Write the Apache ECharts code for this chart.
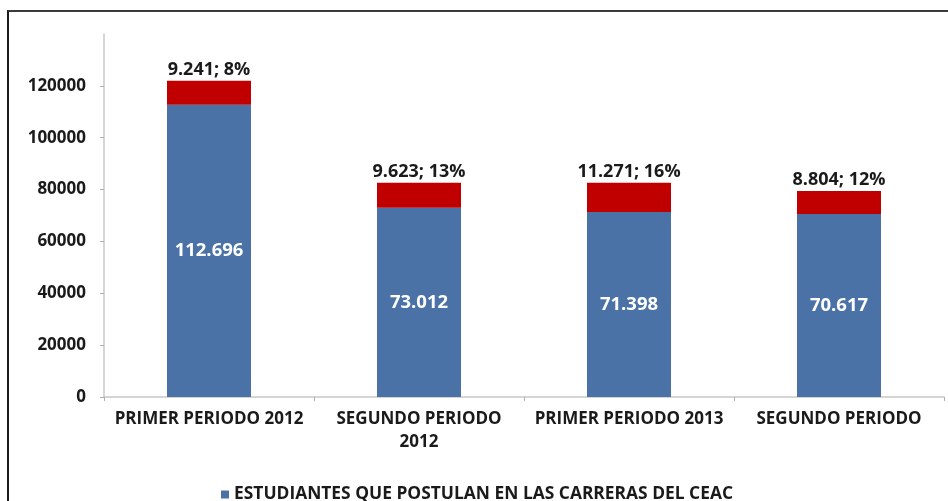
<!DOCTYPE html>
<html><head><meta charset="utf-8">
<script src="https://cdn.jsdelivr.net/npm/echarts@6/dist/echarts.min.js"></script>
<style>
html,body{margin:0;padding:0;background:#fff;}
#frame{position:absolute;left:7px;top:10px;width:941px;height:491px;border-top:2px solid #3a3a3a;border-left:2px solid #1a1a1a;box-sizing:border-box;}
#chart{position:absolute;left:0;top:0;width:948px;height:501px;}
</style></head>
<body>
<div id="frame"></div>
<div id="chart"></div>
<script>
var categories = ["PRIMER PERIODO 2012", "SEGUNDO PERIODO\n2012", "PRIMER PERIODO 2013", "SEGUNDO PERIODO"];
var postulantes = [112696, 73012, 71398, 70617];
var otros = [9241, 9623, 11271, 8804];
var otrosPct = [8, 13, 16, 12];
var yTicks = [0, 20000, 40000, 60000, 80000, 100000, 120000, 140000];

function fmt(n){ return String(n).replace(/\B(?=(\d{3})+(?!\d))/g, "."); }

var font = "'Open Sans', 'Noto Sans', sans-serif";
var chart = echarts.init(document.getElementById('chart'));
chart.setOption({
  animation: false,
  backgroundColor: 'transparent',
  grid: {left: 104, right: 4, top: 34, bottom: 104, containLabel: false},
  legend: {
    bottom: -7, left: 216,
    data: [{name: 'ESTUDIANTES QUE POSTULAN EN LAS CARRERAS DEL CEAC'}],
    itemWidth: 8, itemHeight: 8, icon: 'rect', itemGap: 6,
    textStyle: {fontFamily: font, fontWeight: 'bold', fontSize: 17.4, color: '#1a1a1a'}
  },
  xAxis: {
    type: 'category', data: categories,
    axisLine: {lineStyle: {color: '#c8c8c8', width: 1.5}},
    axisTick: {show: true, length: 4, lineStyle: {color: '#b0b0b0'}},
    axisLabel: {fontFamily: font, fontWeight: 'bold', fontSize: 17, color: '#1a1a1a', margin: 11, lineHeight: 23, interval: 0}
  },
  yAxis: {
    type: 'value', min: yTicks[0], max: yTicks[yTicks.length-1], interval: yTicks[1]-yTicks[0],
    splitLine: {show: false},
    axisLine: {show: true, lineStyle: {color: '#c8c8c8', width: 1.5}},
    axisTick: {show: true, length: 4, lineStyle: {color: '#b0b0b0'}},
    axisLabel: {fontFamily: font, fontWeight: 'bold', fontSize: 17, color: '#1a1a1a', margin: 18, showMaxLabel: false,
      formatter: function(v){ return String(v); }}
  },
  series: [
    {
      name: 'ESTUDIANTES QUE POSTULAN EN LAS CARRERAS DEL CEAC',
      type: 'bar', stack: 'a', data: postulantes, barWidth: 84,
      itemStyle: {color: '#4a72a6'},
      label: {show: true, position: 'inside', color: '#fff', fontFamily: font, fontWeight: 'bold', fontSize: 18.5,
        formatter: function(p){ return fmt(p.value); }}
    },
    {
      name: 'OTROS',
      type: 'bar', stack: 'a', data: otros, barWidth: 84,
      itemStyle: {color: '#c00000'},
      label: {show: true, position: 'top', distance: 2, color: '#1a1a1a', fontFamily: font, fontWeight: 'bold', fontSize: 18,
        formatter: function(p){ return fmt(p.value) + '; ' + otrosPct[p.dataIndex] + '%'; }}
    }
  ]
});
</script>
</body></html>
